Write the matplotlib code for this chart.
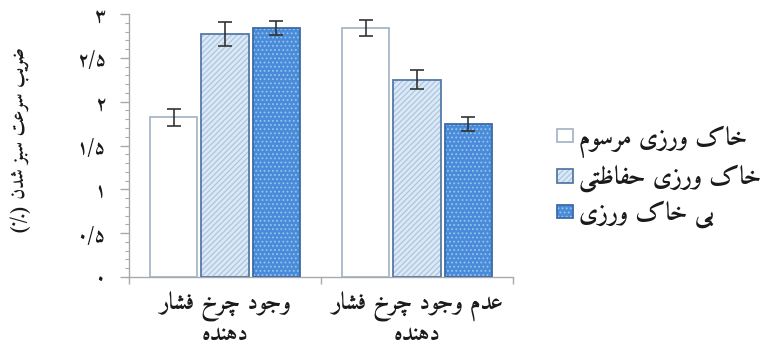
import matplotlib
matplotlib.use("Agg")
import matplotlib.pyplot as plt
from matplotlib.patches import Patch
from matplotlib.legend_handler import HandlerTuple
from matplotlib.ticker import MultipleLocator
import numpy as np

# ---------------- data ----------------
category_lines = [("وجود چرخ فشار", "دهنده"), ("عدم وجود چرخ فشار", "دهنده")]
series_names = ["خاک ورزی مرسوم", "خاک ورزی حفاظتی", "بی خاک ورزی"]
conventional = [1.82, 2.84]
conservation = [2.77, 2.25]
no_tillage = [2.84, 1.74]
conventional_err = [0.10, 0.09]
conservation_err = [0.14, 0.11]
no_tillage_err = [0.08, 0.08]
y_ticks = [0, 0.5, 1, 1.5, 2, 2.5, 3]
y_tick_labels = ["۰", "۰/۵", "۱", "۱/۵", "۲", "۲/۵", "۳"]
y_label = "ضریب سرعت سبز شدن (٪)"

# ---------------- Arabic-script shaping (presentation forms + RTL order) ----------------
FORMS = {
    'آ': (0xFE81, 0xFE82, None, None), 'أ': (0xFE83, 0xFE84, None, None),
    'ؤ': (0xFE85, 0xFE86, None, None), 'إ': (0xFE87, 0xFE88, None, None),
    'ئ': (0xFE89, 0xFE8A, 0xFE8B, 0xFE8C), 'ا': (0xFE8D, 0xFE8E, None, None),
    'ب': (0xFE8F, 0xFE90, 0xFE91, 0xFE92), 'ة': (0xFE93, 0xFE94, None, None),
    'ت': (0xFE95, 0xFE96, 0xFE97, 0xFE98), 'ث': (0xFE99, 0xFE9A, 0xFE9B, 0xFE9C),
    'ج': (0xFE9D, 0xFE9E, 0xFE9F, 0xFEA0), 'ح': (0xFEA1, 0xFEA2, 0xFEA3, 0xFEA4),
    'خ': (0xFEA5, 0xFEA6, 0xFEA7, 0xFEA8), 'د': (0xFEA9, 0xFEAA, None, None),
    'ذ': (0xFEAB, 0xFEAC, None, None), 'ر': (0xFEAD, 0xFEAE, None, None),
    'ز': (0xFEAF, 0xFEB0, None, None), 'س': (0xFEB1, 0xFEB2, 0xFEB3, 0xFEB4),
    'ش': (0xFEB5, 0xFEB6, 0xFEB7, 0xFEB8), 'ص': (0xFEB9, 0xFEBA, 0xFEBB, 0xFEBC),
    'ض': (0xFEBD, 0xFEBE, 0xFEBF, 0xFEC0), 'ط': (0xFEC1, 0xFEC2, 0xFEC3, 0xFEC4),
    'ظ': (0xFEC5, 0xFEC6, 0xFEC7, 0xFEC8), 'ع': (0xFEC9, 0xFECA, 0xFECB, 0xFECC),
    'غ': (0xFECD, 0xFECE, 0xFECF, 0xFED0), 'ف': (0xFED1, 0xFED2, 0xFED3, 0xFED4),
    'ق': (0xFED5, 0xFED6, 0xFED7, 0xFED8), 'ك': (0xFED9, 0xFEDA, 0xFEDB, 0xFEDC),
    'ل': (0xFEDD, 0xFEDE, 0xFEDF, 0xFEE0), 'م': (0xFEE1, 0xFEE2, 0xFEE3, 0xFEE4),
    'ن': (0xFEE5, 0xFEE6, 0xFEE7, 0xFEE8), 'ه': (0xFEE9, 0xFEEA, 0xFEEB, 0xFEEC),
    'و': (0xFEED, 0xFEEE, None, None), 'ى': (0xFEEF, 0xFEF0, None, None),
    'ي': (0xFEF1, 0xFEF2, 0xFEF3, 0xFEF4),
    'پ': (0xFB56, 0xFB57, 0xFB58, 0xFB59), 'چ': (0xFB7A, 0xFB7B, 0xFB7C, 0xFB7D),
    'ژ': (0xFB8A, 0xFB8B, None, None), 'ک': (0xFB8E, 0xFB8F, 0xFB90, 0xFB91),
    'گ': (0xFB92, 0xFB93, 0xFB94, 0xFB95), 'ی': (0xFBFC, 0xFBFD, 0xFBFE, 0xFBFF),
}


def _dual(c):
    f = FORMS.get(c)
    return f is not None and f[2] is not None


def shape_rtl(text):
    out = []
    for i, c in enumerate(text):
        f = FORMS.get(c)
        if f is None:
            out.append(c)
            continue
        prev = text[i - 1] if i > 0 else ''
        nxt = text[i + 1] if i + 1 < len(text) else ''
        jp = _dual(prev)
        jn = _dual(c) and nxt in FORMS
        if jp and jn:
            code = f[3]
        elif jp:
            code = f[1]
        elif jn:
            code = f[2]
        else:
            code = f[0]
        out.append(chr(code))
    vis = ''.join(out)[::-1]
    return vis.translate(str.maketrans('()', ')('))


# ---------------- style ----------------
FONT = "Amiri"
TEXT_COLOR = "#1a1a1a"
AXIS_GRAY = "#a9a9a9"
white_edge = "#a8b6c8"
cons_face, cons_hatch, cons_edge = "#dbe8f5", "#a9c3df", "#557aa6"
none_face, none_hatch, none_edge = "#4a8bd9", "#98c2ef", "#3b6ba4"

plt.rcParams['hatch.linewidth'] = 0.8

fig = plt.figure(figsize=(7.67, 3.47), dpi=100)
ax = fig.add_axes([129 / 767, 70 / 347, 384 / 767, 263 / 347])

x = np.arange(len(category_lines))
width = 0.245
step = 0.268

series = [
    (conventional, conventional_err, "white", None, white_edge, white_edge),
    (conservation, conservation_err, cons_face, "//////", cons_hatch, cons_edge),
    (no_tillage, no_tillage_err, none_face, "....", none_hatch, none_edge),
]

handles = []
for k, (vals, errs, face, hatch, hcol, ecol) in enumerate(series):
    pos = x + (k - 1) * step
    ax.bar(pos, vals, width, color=face, hatch=hatch, edgecolor=hcol, linewidth=0, zorder=2)
    ax.bar(pos, vals, width, fill=False, edgecolor=ecol, linewidth=1.3, zorder=3)
    ax.errorbar(pos, vals, yerr=errs, fmt='none', ecolor="#333333", elinewidth=1.2,
                capsize=4.7, capthick=1.2, zorder=4)
    p1 = Patch(facecolor=face, hatch=hatch, edgecolor=hcol, linewidth=0)
    p2 = Patch(fill=False, edgecolor=ecol, linewidth=1.3)
    handles.append((p1, p2))

ax.set_xlim(-0.5, 1.5)
ax.set_ylim(0, 3)

for s in ("top", "right"):
    ax.spines[s].set_visible(False)
for s in ("left", "bottom"):
    ax.spines[s].set_color(AXIS_GRAY)
    ax.spines[s].set_linewidth(1.0)

ax.set_xticks([-0.5, 0.5, 1.5])
ax.set_xticklabels([])
ax.tick_params(axis='x', direction='out', length=5, width=1.0, color=AXIS_GRAY)

ax.set_yticks(y_ticks)
ax.set_yticklabels(y_tick_labels, fontfamily=FONT, fontweight='bold', fontsize=14,
                   color=TEXT_COLOR)
ax.yaxis.set_minor_locator(MultipleLocator(0.1))
ax.tick_params(axis='y', which='major', direction='out', length=6.5, width=1.0,
               color=AXIS_GRAY, pad=10)
ax.tick_params(axis='y', which='minor', direction='out', length=3, width=0.8,
               color=AXIS_GRAY)

ax.set_ylabel(shape_rtl(y_label), fontfamily=FONT, fontweight='bold', fontsize=13.6,
              color=TEXT_COLOR)
ax.yaxis.set_label_coords(-0.255, 0.52)

# category labels on two lines
xt = ax.get_xaxis_transform()
for xi, (l1, l2) in zip(x, category_lines):
    for txt, yy in ((l1, -0.11), (l2, -0.218)):
        ax.text(xi, yy, shape_rtl(txt), transform=xt, ha='center', va='center',
                fontfamily=FONT, fontweight='bold', fontsize=17, color=TEXT_COLOR)

leg = ax.legend(handles, [shape_rtl(n) for n in series_names],
                handler_map={tuple: HandlerTuple(ndivide=1, pad=0)},
                loc='upper left', bbox_to_anchor=(557 / 767, 1 - 125 / 347),
                bbox_transform=fig.transFigure, frameon=False,
                prop={'family': FONT, 'weight': 'bold', 'size': 18},
                handlelength=0.62, handleheight=0.44, handletextpad=0.25,
                labelspacing=0.3, borderaxespad=0, borderpad=0)
for t in leg.get_texts():
    t.set_color(TEXT_COLOR)

fig.savefig("out.png", dpi=100)
